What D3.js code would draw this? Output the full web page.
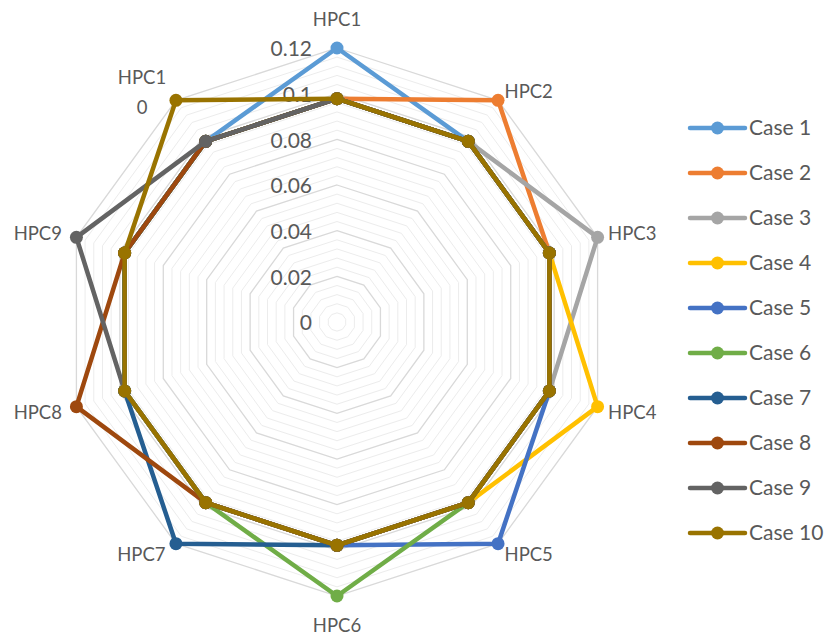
<!DOCTYPE html>
<html>
<head>
<meta charset="utf-8">
<script src="https://cdn.jsdelivr.net/npm/d3@7"></script>
<style>
  body { margin: 0; background: #fff; }
  text { font-family: Lato, "Liberation Sans", sans-serif; fill: #595959; }
</style>
</head>
<body>
<script>
'use strict';

// categories (axes), the last label wraps in two lines like in the original
const categories = ["HPC1", "HPC2", "HPC3", "HPC4", "HPC5", "HPC6", "HPC7", "HPC8", "HPC9", "HPC10"];
const seriesNames = ["Case 1", "Case 2", "Case 3", "Case 4", "Case 5", "Case 6", "Case 7", "Case 8", "Case 9", "Case 10"];
const seriesColors = ["#5B9BD5", "#ED7D31", "#A5A5A5", "#FFC000", "#4472C4", "#70AD47", "#255E91", "#9E480E", "#636363", "#997300"];
const tickValues = [0, 0.02, 0.04, 0.06, 0.08, 0.1, 0.12];
const tickLabels = ["0", "0.02", "0.04", "0.06", "0.08", "0.1", "0.12"];

// each case: one HPC raised to 0.12, others ~0.0978
const case1 = [0.12, 0.0978, 0.0978, 0.0978, 0.0978, 0.0978, 0.0978, 0.0978, 0.0978, 0.0978];
const case2 = [0.0978, 0.12, 0.0978, 0.0978, 0.0978, 0.0978, 0.0978, 0.0978, 0.0978, 0.0978];
const case3 = [0.0978, 0.0978, 0.12, 0.0978, 0.0978, 0.0978, 0.0978, 0.0978, 0.0978, 0.0978];
const case4 = [0.0978, 0.0978, 0.0978, 0.12, 0.0978, 0.0978, 0.0978, 0.0978, 0.0978, 0.0978];
const case5 = [0.0978, 0.0978, 0.0978, 0.0978, 0.12, 0.0978, 0.0978, 0.0978, 0.0978, 0.0978];
const case6 = [0.0978, 0.0978, 0.0978, 0.0978, 0.0978, 0.12, 0.0978, 0.0978, 0.0978, 0.0978];
const case7 = [0.0978, 0.0978, 0.0978, 0.0978, 0.0978, 0.0978, 0.12, 0.0978, 0.0978, 0.0978];
const case8 = [0.0978, 0.0978, 0.0978, 0.0978, 0.0978, 0.0978, 0.0978, 0.12, 0.0978, 0.0978];
const case9 = [0.0978, 0.0978, 0.0978, 0.0978, 0.0978, 0.0978, 0.0978, 0.0978, 0.12, 0.0978];
const case10 = [0.0978, 0.0978, 0.0978, 0.0978, 0.0978, 0.0978, 0.0978, 0.0978, 0.0978, 0.12];
const seriesValues = [case1, case2, case3, case4, case5, case6, case7, case8, case9, case10];

const width = 826, height = 635;
const cx = 337, cy = 322, radius = 274;

const svg = d3.select("body").append("svg")
  .attr("width", width)
  .attr("height", height);

const r = d3.scaleLinear().domain([0, 0.12]).range([0, radius]);
const angle = d3.scaleLinear().domain([0, categories.length]).range([0, 2 * Math.PI]);

const g = svg.append("g").attr("transform", `translate(${cx},${cy})`);

// ring polygon for a given value
function ring(v) {
  return d3.range(categories.length).map(i => {
    const a = angle(i);
    return [r(v) * Math.sin(a), -r(v) * Math.cos(a)];
  });
}
const ringLine = d3.line().curve(d3.curveLinearClosed);

// minor gridlines every 0.004
const minorTicks = d3.range(1, 30).map(k => k * 0.004).filter((v, k) => (k + 1) % 5 !== 0);
g.selectAll(".minor")
  .data(minorTicks)
  .enter()
  .append("path")
    .attr("class", "minor")
    .attr("d", d => ringLine(ring(d)))
    .attr("fill", "none")
    .attr("stroke", "#ececec")
    .attr("stroke-width", 1);

// major gridlines
g.selectAll(".major")
  .data(tickValues.slice(1))
  .enter()
  .append("path")
    .attr("class", "major")
    .attr("d", d => ringLine(ring(d)))
    .attr("fill", "none")
    .attr("stroke", "#d9d9d9")
    .attr("stroke-width", 1.3);

// value axis labels
g.selectAll(".tick")
  .data(tickValues)
  .enter()
  .append("text")
    .attr("class", "tick")
    .attr("x", -25)
    .attr("y", d => -r(d))
    .attr("dy", "0.4em")
    .attr("text-anchor", "end")
    .style("font-size", "21px")
    .text((d, i) => tickLabels[i]);

// series lines and markers
const line = d3.line().curve(d3.curveLinearClosed);
function points(vals) {
  return vals.map((v, i) => [r(v) * Math.sin(angle(i)), -r(v) * Math.cos(angle(i))]);
}

seriesValues.forEach((vals, s) => {
  const pts = points(vals);
  const sg = g.append("g");
  sg.append("path")
    .attr("d", line(pts))
    .attr("fill", "none")
    .attr("stroke", seriesColors[s])
    .attr("stroke-width", 4.5)
    .attr("stroke-linejoin", "round");
  sg.selectAll("circle")
    .data(pts)
    .enter()
    .append("circle")
      .attr("cx", d => d[0])
      .attr("cy", d => d[1])
      .attr("r", 6.5)
      .attr("fill", seriesColors[s]);
});

// category labels
categories.forEach((c, i) => {
  const a = angle(i);
  const s = Math.sin(a), co = Math.cos(a);
  let anchor = "middle";
  if (s > 0.1) anchor = "start";
  else if (s < -0.1) anchor = "end";
  const lr = Math.abs(s) < 0.1 ? 302 : 285;
  let x = lr * s, y = -lr * co;
  if (s < -0.1) x -= 4;
  if (co < -0.1) y += 2;
  const t = g.append("text")
    .attr("text-anchor", anchor)
    .style("font-size", "18.5px");
  if (c === "HPC10") {
    t.append("tspan").attr("x", -195).attr("y", y - 14).attr("dy", "0.35em").attr("text-anchor", "middle").text("HPC1");
    t.append("tspan").attr("x", -195).attr("y", y + 16).attr("dy", "0.35em").attr("text-anchor", "middle").text("0");
  } else {
    t.attr("x", x).attr("y", y).attr("dy", "0.35em").text(c);
  }
});

// legend
const legend = svg.append("g").attr("transform", "translate(690,128)");
const legendY = d3.scaleLinear().domain([0, 9]).range([0, 405]);
const items = legend.selectAll(".item")
  .data(seriesNames)
  .enter()
  .append("g")
    .attr("transform", (d, i) => `translate(0,${legendY(i)})`);
items.append("line")
  .attr("x1", 0).attr("x2", 55)
  .attr("stroke", (d, i) => seriesColors[i])
  .attr("stroke-width", 4.5)
  .attr("stroke-linecap", "round");
items.append("circle")
  .attr("cx", 27.5)
  .attr("r", 6.5)
  .attr("fill", (d, i) => seriesColors[i]);
items.append("text")
  .attr("x", 59)
  .attr("dy", "0.35em")
  .style("font-size", "21px")
  .text(d => d);
</script>
</body>
</html>
